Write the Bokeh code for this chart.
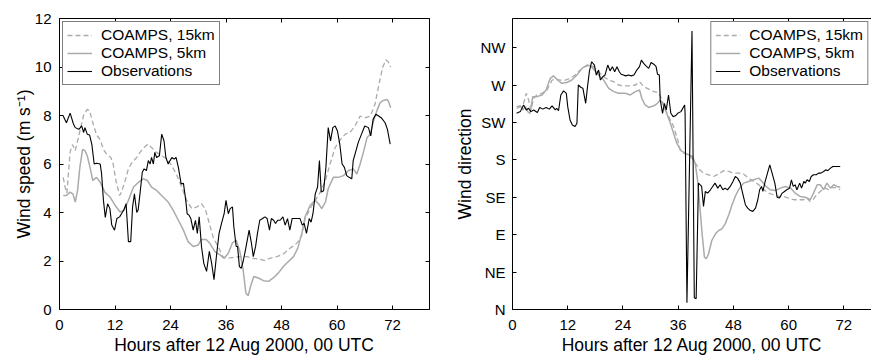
from bokeh.plotting import figure
from bokeh.models import LinearAxis, FixedTicker, Range1d
from bokeh.layouts import row
from bokeh.embed import file_html
from bokeh.resources import INLINE

# ---------------- Wind speed (m/s) ----------------
obs_spd_h = [0.8, 1.5, 2.3, 3.0, 3.4, 4.2, 4.8, 5.2, 5.5, 6.0, 6.5, 7.0, 7.5, 8.0, 8.8, 9.1, 9.5, 9.9,
             10.4, 10.9, 11.3, 11.9, 12.4, 13.0, 13.4, 13.9, 14.4, 14.9, 15.4, 15.8, 16.2, 16.7, 17.0,
             17.4, 17.9, 18.3, 18.8, 19.2, 19.6, 19.9, 20.3, 20.6, 21.0, 21.6, 22.1, 22.6, 23.0, 23.5,
             23.9, 24.3, 24.8, 25.2, 25.7, 26.3, 26.8, 27.3, 27.6, 28.0, 28.4, 28.9, 29.4, 29.8, 30.2,
             30.7, 31.2, 31.8, 32.4, 32.9, 33.4, 34.0, 34.5, 35.1, 35.6, 36.0, 36.5, 36.9, 37.4, 37.7,
             38.2, 38.5, 38.9, 39.3, 39.7, 40.2, 40.6, 41.0, 41.5, 41.9, 42.4, 42.8, 43.3, 43.9, 44.4,
             44.9, 45.4, 45.8, 46.3, 46.7, 47.2, 47.7, 48.3, 48.8, 49.3, 49.8, 50.3, 50.9, 51.5, 52.0,
             52.5, 52.9, 53.4, 54.0, 54.4, 54.8, 55.3, 55.8, 56.2, 56.6, 57.1, 57.6, 58.1, 58.6, 59.1,
             59.6, 60.1, 60.6, 61.1, 61.6, 62.1, 62.6, 63.2, 63.5, 64.0, 64.6, 65.3, 66.0, 66.8, 67.3,
             67.8, 68.4, 69.0, 69.6, 70.4, 70.9, 71.5]
obs_spd = [7.98, 7.7, 8.1, 7.66, 7.5, 7.43, 7.57, 7.3, 7.5, 7.23, 7.2, 6.8, 6.0, 6.03, 6.0, 5.6, 4.5, 3.8,
           4.36, 4.16, 3.48, 3.27, 3.75, 3.82, 3.95, 4.1, 4.36, 2.8, 2.8, 4.23, 4.77, 4.0, 4.1,
           4.77, 5.66, 5.8, 5.73, 6.14, 6.0, 6.27, 6.0, 6.48, 6.27, 6.34, 7.23, 6.95, 6.27, 6.0,
           6.14, 6.27, 6.2, 6.27, 5.86, 5.18, 5.2, 4.5, 3.95, 3.89, 3.75, 3.27, 3.68, 3.14, 3.82,
           2.6, 1.9, 1.57, 2.4, 1.9, 1.23, 2.32, 3.14, 3.6, 3.95, 4.5, 3.95, 4.16, 4.23, 3.4,
           2.6, 2.6, 1.77, 1.7, 1.98, 2.45, 2.86, 3.27, 2.73, 2.18, 2.6, 3.14, 3.68, 3.75, 3.82,
           3.75, 3.27, 3.75, 3.68, 3.55, 3.68, 3.68, 3.82, 3.48, 3.75, 3.27, 3.75, 3.75, 3.75, 3.75,
           3.48, 3.55, 3.14, 3.75, 3.6, 3.95, 4.77, 5.05, 6.14, 4.84, 4.9, 5.86, 7.5, 6.95, 7.5,
           7.57, 7.36, 6.82, 6.0, 5.86, 5.52, 5.45, 5.39, 6.14, 6.48, 6.89, 7.23, 7.57, 7.5, 7.16,
           7.84, 8.05, 7.98, 7.9, 7.7, 7.43, 6.82]

c15_spd_h = [0.8, 1.2, 1.6, 2.3, 2.8, 3.4, 4.1, 5.2, 6.0, 6.5, 7.3, 8.0, 8.8, 9.5, 10.2, 11.1, 11.6,
             12.2, 13.0, 13.4, 14.2, 14.9, 15.7, 16.7, 17.4, 18.3, 19.1, 19.9, 21.0, 22.1, 23.2, 24.3,
             25.4, 26.4, 27.5, 28.6, 29.7, 30.7, 31.5, 32.2, 33.3, 34.3, 35.3, 36.1, 37.6, 39.0, 40.5,
             41.9, 43.3, 44.4, 45.5, 47.0, 48.4, 49.8, 50.9, 51.6, 52.4, 53.1, 54.2, 55.3, 56.4, 57.5,
             58.5, 59.6, 60.7, 61.8, 62.8, 63.9, 65.0, 66.0, 67.2, 68.2, 69.2, 69.9, 70.6, 71.1, 71.6]
c15_spd = [5.45, 5.05, 4.8, 6.5, 6.8, 6.55, 7.1, 8.0, 8.25, 8.2, 7.64, 7.2, 7.0, 6.6, 6.4, 6.27, 6.0,
           5.32, 4.7, 4.84, 5.32, 5.8, 6.07, 6.27, 6.48, 6.68, 6.82, 6.68, 6.48, 6.34, 6.2, 5.93,
           5.52, 5.05, 4.5, 4.16, 4.23, 4.36, 4.16, 3.68, 2.93, 2.6, 2.18, 2.11, 2.15, 2.18, 2.18,
           2.11, 2.07, 2.02, 2.11, 2.18, 2.29, 2.52, 2.66, 2.8, 3.07, 3.75, 4.16, 4.5, 4.84, 5.32,
           6.0, 6.68, 7.0, 7.23, 7.3, 7.57, 7.98, 7.9, 7.98, 8.45, 9.4, 10.0, 10.3, 10.2, 10.0]

c5_spd_h = [0.8, 1.5, 2.3, 2.9, 3.4, 3.9, 4.4, 5.0, 5.5, 6.0, 6.6, 7.2, 8.0, 8.8, 9.8, 10.9, 12.0,
            13.1, 13.9, 14.9, 16.0, 17.1, 18.1, 19.0, 19.9, 21.0, 22.4, 23.5, 24.6, 25.7, 26.8, 27.8,
            28.9, 30.0, 30.7, 31.7, 32.5, 33.6, 34.7, 35.6, 36.5, 37.4, 38.2, 39.0, 39.7, 40.3, 40.8,
            41.3, 42.0, 43.0, 44.1, 45.2, 46.2, 47.3, 48.4, 49.5, 50.6, 51.5, 52.4, 53.1, 54.2, 55.3,
            56.0, 56.7, 57.5, 58.1, 59.2, 60.3, 61.4, 62.5, 63.5, 64.3, 65.0, 65.8, 66.5, 67.2, 67.9,
            68.6, 69.3, 70.0, 70.8, 71.1, 71.6]
c5_spd = [4.7, 4.7, 4.84, 4.77, 4.43, 4.9, 5.86, 6.6, 6.55, 6.34, 5.86, 5.32, 5.45, 5.25, 4.84, 4.64, 4.3,
          4.02, 4.09, 4.5, 5.05, 5.25, 5.39, 5.32, 5.05, 4.91, 4.64, 4.43, 4.09, 3.68, 3.27, 2.8,
          2.6, 2.66, 2.89, 2.89, 2.73, 2.39, 2.25, 2.11, 2.32, 2.75, 2.86, 2.39, 1.64, 0.68, 0.57,
          0.95, 1.36, 1.3, 1.19, 1.16, 1.3, 1.5, 1.77, 1.98, 2.18, 2.52, 3.14, 3.82, 4.3, 4.5,
          4.36, 4.16, 4.43, 4.98, 5.45, 5.45, 5.52, 5.73, 5.8, 5.59, 6.0, 6.55, 7.09, 7.23, 7.77,
          8.18, 8.52, 8.62, 8.66, 8.6, 8.32]

# ---------------- Wind direction (degrees) ----------------
obs_dir_h = [0.9, 1.7, 2.4, 3.0, 3.5, 4.0, 4.6, 5.4, 5.9, 6.6, 7.3, 8.0, 8.6, 9.3, 9.6, 10.0, 10.5,
             11.1, 11.7, 12.0, 12.5, 13.0, 13.6, 14.0, 14.3, 14.9, 15.3, 15.9, 16.3, 16.7, 17.2, 17.8,
             18.2, 18.7, 19.1, 19.6, 20.1, 20.7, 21.2, 21.7, 22.2, 22.7, 23.2, 23.6, 24.1, 24.6, 25.2,
             25.8, 26.4, 27.0, 27.6, 28.0, 28.5, 29.0, 29.6, 30.1, 30.7, 31.2, 31.5, 31.9, 32.1, 32.6,
             33.0, 33.4, 33.9, 34.4, 34.9, 35.4, 35.9, 36.6, 37.4, 37.5, 37.9, 39.0, 39.5, 39.9, 40.4,
             41.1, 41.5, 41.9, 42.4, 43.0, 43.5, 44.0, 44.6, 45.1, 45.7, 46.2, 46.7, 47.3, 47.9, 48.4,
             48.9, 49.5, 50.0, 50.6, 51.1, 51.7, 52.2, 52.8, 53.3, 53.7, 54.1, 54.4, 54.9, 55.4, 55.9,
             56.4, 57.0, 57.5, 58.0, 58.6, 59.1, 59.6, 60.2, 60.6, 61.0, 61.4, 61.8, 62.4, 62.8, 63.3,
             63.6, 64.0, 64.5, 64.9, 65.4, 66.0, 66.5, 67.0, 67.6, 68.1, 68.5, 69.1, 69.6, 70.1, 70.6,
             71.2]
obs_dir = [236, 238, 246, 240, 242, 238, 240, 237, 243, 241, 243, 241, 245, 240, 242, 239, 258,
           263, 260, 244, 228, 222, 220, 224, 270, 267, 266, 248, 268, 286, 298, 294,
           282, 288, 276, 280, 282, 294, 287, 292, 286, 292, 286, 283, 282, 281, 282,
           281, 282, 288, 292, 300, 296, 293, 290, 297, 295, 292, 283, 282, 252, 236,
           248, 240, 258, 236, 232, 233, 236, 238, 246, 236, 8, 335, 14, 13, 152,
           148, 124, 142, 140, 144, 148, 152, 146, 150, 144, 146, 144, 148, 154, 160,
           158, 152, 140, 126, 122, 119, 118, 122, 132, 144, 148, 142, 154, 164, 174,
           164, 152, 135, 134, 140, 142, 144, 146, 156, 148, 150, 144, 152, 146, 154,
           152, 156, 154, 160, 162, 162, 164, 164, 166, 168, 167, 170, 172, 172, 172,
           172]

c15_dir_h = [0.9, 1.7, 2.4, 3.0, 3.5, 4.0, 4.6, 5.3, 6.4, 7.5, 8.6, 9.3, 10.4, 11.5, 12.5, 13.6, 14.7,
             15.8, 16.7, 17.6, 18.7, 19.8, 20.9, 22.0, 23.0, 24.1, 25.6, 26.7, 27.6, 28.5, 29.6, 30.7,
             31.7, 32.5, 33.2, 34.3, 35.0, 35.9, 36.4, 37.2, 38.3, 39.0, 39.7, 40.7, 41.5, 42.6, 43.7,
             44.8, 45.9, 47.0, 48.0, 49.1, 50.2, 51.3, 52.4, 53.5, 54.6, 55.7, 56.7, 57.8, 58.9, 60.0,
             61.1, 62.2, 63.3, 64.0, 64.6, 65.3, 65.8, 66.5, 67.3, 68.0, 68.7, 69.4, 70.5, 71.2]
c15_dir = [242, 244, 248, 260, 252, 240, 254, 258, 260, 264, 276, 277, 276, 276, 278, 282, 288,
           292, 294, 292, 286, 280, 276, 274, 270, 269, 269, 270, 274, 268, 265, 262,
           261, 252, 240, 228, 220, 204, 192, 188, 186, 182, 176, 168, 164, 162, 160,
           163, 167, 166, 164, 164, 163, 158, 154, 150, 144, 140, 138, 136, 136, 134,
           132, 132, 132, 134, 130, 132, 136, 140, 144, 146, 144, 147, 146, 144]

c5_dir_h = [0.9, 1.7, 2.2, 2.8, 3.3, 3.8, 4.4, 5.3, 6.4, 7.3, 8.2, 8.9, 9.8, 10.7, 11.8, 12.9, 14.0,
            15.1, 16.2, 16.9, 17.8, 18.7, 19.8, 20.9, 22.0, 23.0, 24.5, 25.6, 26.7, 27.6, 28.1, 28.8,
            29.6, 30.7, 31.5, 32.1, 32.8, 33.5, 34.3, 35.0, 35.7, 36.6, 37.5, 38.4, 39.1, 39.7, 40.2,
            40.7, 41.2, 41.7, 42.1, 42.6, 43.3, 44.1, 44.8, 45.5, 46.2, 47.0, 47.7, 48.4, 49.1, 50.2,
            51.3, 52.4, 53.5, 54.2, 55.1, 56.0, 57.1, 58.2, 59.3, 60.4, 61.4, 62.5, 63.6, 64.7, 65.4,
            66.2, 66.9, 67.6, 68.3, 69.1, 69.8, 70.5, 71.2]
c5_dir = [244, 245, 240, 244, 238, 236, 256, 256, 258, 264, 278, 281, 276, 272, 273, 276, 282,
          290, 294, 293, 288, 282, 276, 266, 262, 260, 260, 258, 262, 264, 254, 246,
          243, 245, 248, 252, 246, 236, 224, 212, 200, 191, 188, 186, 184, 176, 156,
          124, 91, 63, 61, 67, 83, 91, 95, 97, 103, 114, 126, 136, 144, 152,
          154, 156, 158, 154, 148, 144, 143, 146, 148, 146, 140, 136, 135, 132, 140,
          150, 150, 144, 152, 146, 150, 148, 147]

hour_ticks = [0, 12, 24, 36, 48, 60, 72]
speed_ticks = [0, 2, 4, 6, 8, 10, 12]
dir_ticks = [0, 45, 90, 135, 180, 225, 270, 315]
dir_labels = ["N", "NE", "E", "SE", "S", "SW", "W", "NW"]

FONT = "Liberation Sans"
GRAY = "#ababab"


def style_axis(ax, ticks, show_labels=True):
    ax.ticker = FixedTicker(ticks=ticks)
    ax.major_tick_in = 4
    ax.major_tick_out = 0
    ax.minor_tick_in = 0
    ax.minor_tick_out = 0
    ax.axis_line_color = "black"
    ax.axis_line_width = 1
    ax.major_tick_line_color = "black"
    ax.major_label_text_font = FONT
    ax.major_label_text_font_size = "15px"
    ax.major_label_text_color = "black"
    ax.axis_label_text_font = FONT
    ax.axis_label_text_font_size = "17.5px"
    ax.axis_label_text_font_style = "normal"
    ax.axis_label_text_color = "black"
    if not show_labels:
        # mirror axis: ticks only, labels not painted
        ax.major_label_text_font_size = "1px"
        ax.major_label_text_color = None
        ax.major_label_text_alpha = 0
        ax.major_label_standoff = 0


def make_fig(width, yr, xr, mb_left, mb_right, mb_top, mb_bottom):
    p = figure(width=width, height=359, output_backend="svg", toolbar_location=None,
               x_range=Range1d(*xr), y_range=Range1d(*yr),
               min_border_left=mb_left, min_border_right=mb_right,
               min_border_top=mb_top, min_border_bottom=mb_bottom)
    p.xgrid.visible = False
    p.ygrid.visible = False
    p.outline_line_color = None
    p.background_fill_color = "white"
    p.border_fill_color = "white"
    return p


# ---- left panel ----
p1 = make_fig(440, (0, 12), (0, 80), 59, 11, 17, 49)
p1.line(c15_spd_h, c15_spd, line_color=GRAY, line_width=1.3, line_dash="5 3",
        legend_label="COAMPS, 15km")
p1.line(c5_spd_h, c5_spd, line_color=GRAY, line_width=1.5, legend_label="COAMPS, 5km")
p1.line(obs_spd_h, obs_spd, line_color="black", line_width=1.1, legend_label="Observations")

style_axis(p1.xaxis[0], hour_ticks)
p1.xaxis[0].axis_label = "Hours after 12 Aug 2000, 00 UTC"
p1.xaxis[0].major_label_standoff = 10
p1.xaxis[0].axis_label_standoff = 2
style_axis(p1.yaxis[0], speed_ticks)
p1.yaxis[0].axis_label = "Wind speed (m s\u207b\u00b9)"
p1.yaxis[0].major_label_standoff = 8
p1.yaxis[0].axis_label_standoff = -2

top1 = LinearAxis()
style_axis(top1, hour_ticks, show_labels=False)
p1.add_layout(top1, "above")
right1 = LinearAxis()
style_axis(right1, speed_ticks, show_labels=False)
p1.add_layout(right1, "right")

# ---- right panel ----
p2 = make_fig(431, (0, 350), (0, 78), 72, 0, 18, 50)
p2.line(c15_dir_h, c15_dir, line_color=GRAY, line_width=1.3, line_dash="5 3",
        legend_label="COAMPS, 15km")
p2.line(c5_dir_h, c5_dir, line_color=GRAY, line_width=1.5, legend_label="COAMPS, 5km")
p2.line(obs_dir_h, obs_dir, line_color="black", line_width=1.1, legend_label="Observations")

style_axis(p2.xaxis[0], hour_ticks)
p2.xaxis[0].axis_label = "Hours after 12 Aug 2000, 00 UTC"
p2.xaxis[0].major_label_standoff = 10
p2.xaxis[0].axis_label_standoff = 2
style_axis(p2.yaxis[0], dir_ticks)
p2.yaxis[0].major_label_overrides = {t: l for t, l in zip(dir_ticks, dir_labels)}
p2.yaxis[0].axis_label = "Wind direction"
p2.yaxis[0].major_label_standoff = 7
p2.yaxis[0].axis_label_standoff = 3

top2 = LinearAxis()
style_axis(top2, hour_ticks, show_labels=False)
p2.add_layout(top2, "above")

for p, loc in ((p1, "top_left"), (p2, "top_right")):
    lg = p.legend[0]
    lg.location = loc
    lg.margin = 3
    lg.padding = 4
    lg.spacing = -1
    lg.glyph_width = 25
    lg.glyph_height = 16
    lg.label_height = 16
    lg.label_standoff = 9
    lg.label_text_font = FONT
    lg.label_text_font_size = "15.5px"
    lg.label_text_color = "black"
    lg.border_line_color = "black"
    lg.border_line_width = 1
    lg.background_fill_color = "white"
    lg.background_fill_alpha = 1.0

layout = row(p1, p2)
open("out.html", "w").write(file_html(layout, INLINE))
